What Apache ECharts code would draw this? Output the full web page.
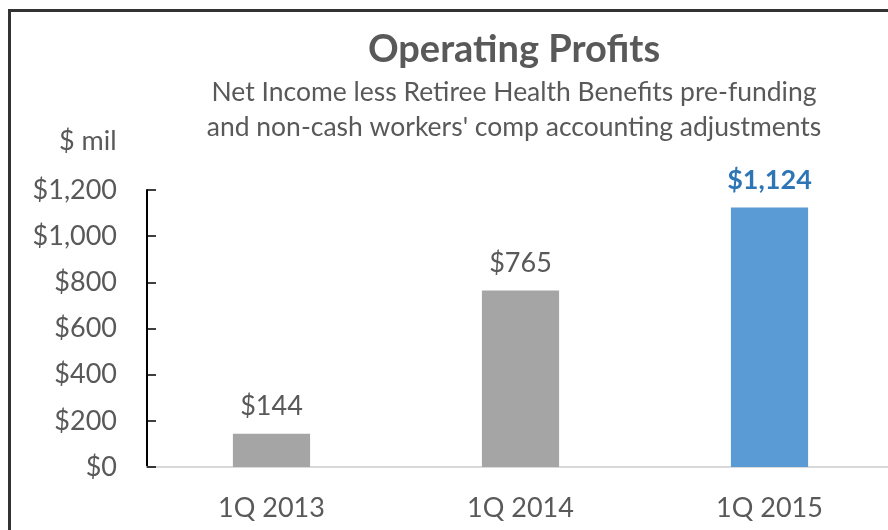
<!DOCTYPE html>
<html>
<head>
<meta charset="utf-8">
<script src="https://cdn.jsdelivr.net/npm/echarts@6/dist/echarts.min.js"></script>
<style>
  html, body { margin: 0; padding: 0; background: #fff; }
  #chart { width: 888px; height: 530px; }
</style>
</head>
<body>
<div id="chart"></div>
<script>
var categories = ['1Q 2013', '1Q 2014', '1Q 2015'];
var profits = [144, 765, 1124];
var barColors = ['#a5a5a5', '#a5a5a5', '#5b9bd5'];
var labelColors = ['#595959', '#595959', '#2e75b6'];

var font = 'Lato';
var chart = echarts.init(document.getElementById('chart'));

var option = {
    animation: false,
    backgroundColor: '#fff',
    title: [
        {
            text: 'Operating Profits',
            left: 509, top: 26, textAlign: 'center',
            textStyle: { fontFamily: font, fontSize: 38, fontWeight: 'bold', color: '#595959' }
        },
        {
            text: 'Net Income less Retiree Health Benefits pre-funding\nand non-cash workers\' comp accounting adjustments',
            left: 509, top: 70, textAlign: 'center',
            textStyle: { fontFamily: font, fontSize: 26.5, fontWeight: 'normal', color: '#595959', lineHeight: 35 }
        },
        {
            text: '$ mil',
            left: 54, top: 123,
            textStyle: { fontFamily: font, fontSize: 27, fontWeight: 'normal', color: '#595959' }
        }
    ],
    graphic: [{
        type: 'rect',
        shape: { x: 9.5, y: 10.5, width: 920, height: 600 },
        style: { fill: 'none', stroke: '#333', lineWidth: 3 }
    }],
    grid: { left: 147, top: 190, width: 747, bottom: 63, outerBoundsMode: 'none' },
    xAxis: {
        type: 'category',
        data: categories,
        axisLine: { lineStyle: { color: '#d9d9d9', width: 2 } },
        axisTick: { show: false },
        axisLabel: { fontFamily: font, fontSize: 27, color: '#595959', margin: 28 }
    },
    yAxis: {
        type: 'value',
        min: 0, max: 1200, interval: 200,
        axisLine: { show: true, lineStyle: { color: '#000', width: 2 } },
        axisTick: { show: true, inside: true, length: 9, lineStyle: { color: '#000', width: 1.5 } },
        splitLine: { show: false },
        axisLabel: {
            fontFamily: font, fontSize: 27, color: '#595959', margin: 30,
            formatter: function (v) { return '$' + v.toLocaleString('en-US'); }
        }
    },
    series: [{
        type: 'bar',
        barWidth: '31%',
        data: profits.map(function (v, i) {
            return {
                value: v,
                itemStyle: { color: barColors[i] },
                label: {
                    color: labelColors[i],
                    fontWeight: i === 2 ? 'bold' : 'normal'
                }
            };
        }),
        label: {
            show: true, position: 'top', distance: 14,
            fontFamily: font, fontSize: 27,
            formatter: function (p) { return '$' + p.value.toLocaleString('en-US'); }
        }
    }]
};
chart.setOption(option);
</script>
</body>
</html>
